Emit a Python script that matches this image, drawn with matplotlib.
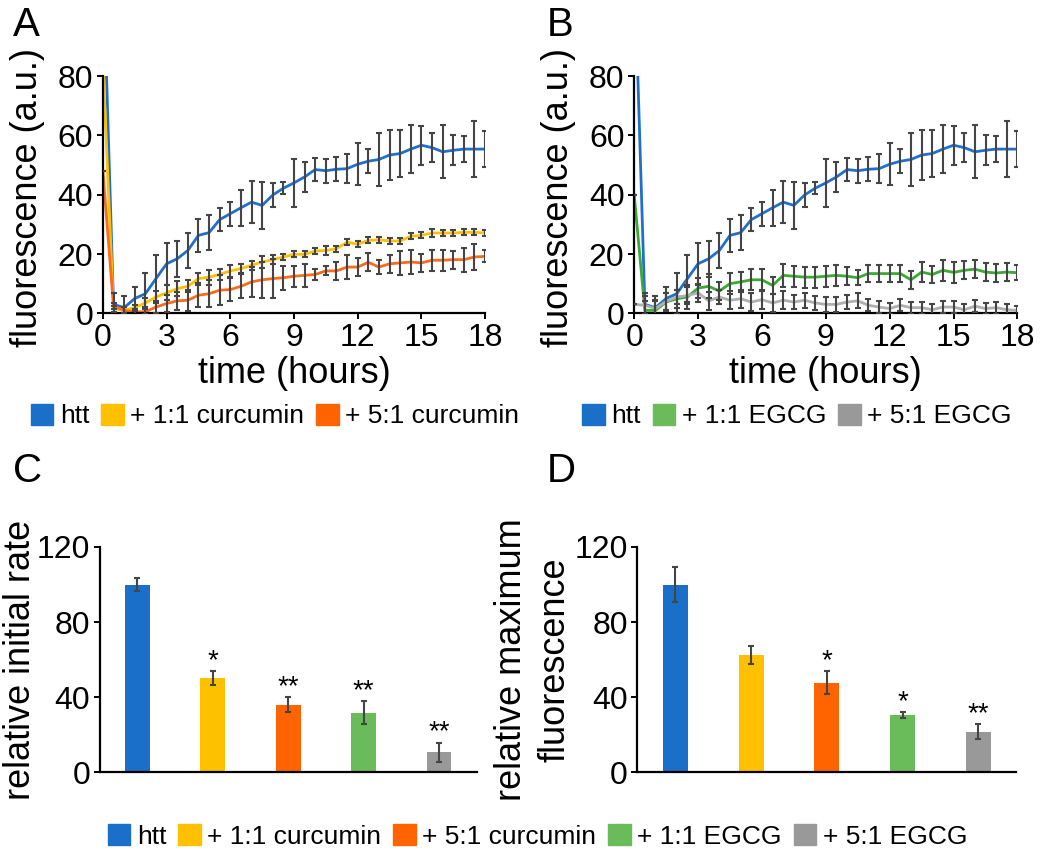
import matplotlib
matplotlib.use('Agg')
import matplotlib.pyplot as plt
from matplotlib.patches import Patch

plt.rcParams['font.family'] = ['Liberation Sans', 'DejaVu Sans']

# time course (hours), one reading every 30 min
t = [0, 0.5, 1, 1.5, 2, 2.5, 3, 3.5, 4, 4.5, 5, 5.5, 6, 6.5, 7, 7.5, 8, 8.5, 9,
     9.5, 10, 10.5, 11, 11.5, 12, 12.5, 13, 13.5, 14, 14.5, 15, 15.5, 16, 16.5,
     17, 17.5, 18]

htt = [120, 3, 1.9, 5, 6.6, 11.7, 16.7, 18.4, 21.2, 26.3, 27.2, 31.6, 33.6, 35.6,
       37.5, 36.4, 39.9, 42.2, 44, 46, 48.5, 48.1, 48.6, 48.8, 50.3, 51.3, 51.9,
       53.4, 53.9, 55.4, 56.7, 55.9, 54.5, 55, 55.4, 55.4, 55.4]
htt_err = [0, 4, 4, 4, 7, 8, 7, 6, 6, 5.5, 6, 4, 4, 6, 7, 8, 4, 2, 8, 5, 4, 4, 4,
           5, 7, 4, 9, 8.5, 8, 8, 6.5, 5, 9, 5, 4.5, 9.5, 6]

cur11 = [85, 1.6, 1, 1.9, 3.5, 5.5, 6.9, 8.3, 9.1, 11.7, 12.2, 13.1, 14.3, 15.1,
         16.2, 17.3, 18.1, 19, 19.9, 19.9, 21, 21.2, 21.8, 24, 23.3, 24.6, 24.8,
         24.4, 24.4, 26, 26.3, 27.1, 27.1, 27.1, 27.3, 27.3, 27.1]
cur11_err = [0, 1, 1, 1, 1.5, 2, 2.5, 2.5, 2, 2, 2.5, 2, 2, 1.5, 1.5, 2, 1.5, 1,
             1, 1, 1, 1.5, 1, 1, 1, 1, 1, 1, 1, 1, 1, 1.5, 1, 1, 1, 1, 1]

cur51 = [48, 2.4, 1, 0.5, 0.5, 2.1, 3.3, 4.2, 4.4, 6.1, 6.6, 7.8, 8, 9.1, 10.6,
         11.3, 11.7, 12, 12.5, 12.8, 13.1, 14.3, 14.3, 15.6, 15.6, 17.2, 15.6,
         16.7, 17, 17.3, 17, 17.9, 17.9, 18.1, 18.1, 19, 19.2]
cur51_err = [0, 1, 1, 1, 1, 2, 3, 3, 3.5, 4, 4.5, 5, 4, 4, 5, 6, 6.5, 4, 3.5, 4,
             2, 1.5, 3, 4, 3, 3, 2.5, 3, 4, 4, 3, 3.5, 3.5, 3, 4, 4.5, 2]

egcg11 = [40, 1, 1, 3.8, 4.9, 5.5, 8.5, 9.1, 7.5, 10, 10.6, 11.3, 11.3, 9.4, 12.8,
          12.5, 12.2, 12.2, 12.5, 12.8, 12.5, 12, 13.4, 13.4, 13.4, 13.4, 11.3,
          13.9, 13.1, 14.5, 13.8, 14.5, 14.9, 13.9, 13.6, 13.9, 13.7]
egcg11_err = [0, 3, 3, 3, 3, 4, 3.5, 4, 3, 3.5, 3.5, 3.5, 3.5, 3, 4, 3.5, 3.5,
              3.5, 3.5, 3.5, 3, 2.5, 3, 3, 3, 3, 3, 3.5, 3, 3.5, 3.5, 3, 3, 3, 3,
              3, 2.5]

egcg51 = [3, 2.7, 1.6, 4, 5.5, 6, 6.9, 4.2, 5.5, 4.4, 4.9, 3.8, 4.6, 3.5, 4.4,
          3.8, 4.4, 3.5, 3, 3, 3.8, 4.2, 2.7, 2.1, 1.6, 2.7, 1.9, 1.9, 1.2, 2.1,
          2.1, 1.2, 2.4, 1.6, 1.9, 1.2, 1]
egcg51_err = [0, 3, 3, 3, 2.5, 3, 3, 3, 2.5, 3, 3, 3, 3, 3, 3, 2.5, 2.5, 2.5,
              2.5, 2.5, 2.5, 2.5, 2, 2, 2, 2, 2, 2, 2, 2, 2, 2, 2, 2, 2, 2, 1.5]

# bar panels
groups = ['htt', '+ 1:1 curcumin', '+ 5:1 curcumin', '+ 1:1 EGCG', '+ 5:1 EGCG']
rate = [100, 50, 35.8, 31.7, 10.6]
rate_err = [3.3, 3.8, 4, 6, 5]
rate_sig = ['', '*', '**', '**', '**']
maxf = [100, 62.4, 47.7, 30.3, 21.6]
maxf_err = [9.3, 4.9, 6, 1.5, 4]
maxf_sig = ['', '', '*', '*', '**']

bar_cols = ['#1a70c8', '#ffc000', '#ff6400', '#6abb5a', '#999999']
line_cols = ['#1f6fd0', '#ffc000', '#ff6a1a', '#3aaa35', '#b0b0b0']
ecol = '#454545'

fig = plt.figure(figsize=(10.5, 8.56), dpi=100)
axA = fig.add_axes([0.098, 0.634, 0.364, 0.277])
axB = fig.add_axes([0.604, 0.634, 0.365, 0.277])
axC = fig.add_axes([0.095, 0.098, 0.359, 0.263])
axD = fig.add_axes([0.607, 0.098, 0.361, 0.263])


def style(ax):
    for s in ['top', 'right']:
        ax.spines[s].set_visible(False)
    for s in ['left', 'bottom']:
        ax.spines[s].set_linewidth(1.6)
    ax.tick_params(labelsize=23, width=1.4, length=4, pad=3)


def curve(ax, y, err, col):
    ax.plot(t, y, color=col, lw=2, zorder=2)
    ax.errorbar(t, y, yerr=err, fmt='none', ecolor=ecol, elinewidth=1.5,
                capsize=2.2, capthick=1.5, zorder=3)


curve(axA, htt, htt_err, line_cols[0])
curve(axA, cur11, cur11_err, line_cols[1])
curve(axA, cur51, cur51_err, line_cols[2])
curve(axB, htt, htt_err, line_cols[0])
curve(axB, egcg11, egcg11_err, line_cols[3])
curve(axB, egcg51, egcg51_err, line_cols[4])

for ax in [axA, axB]:
    style(ax)
    ax.set_xlim(0, 18)
    ax.set_ylim(0, 80)
    ax.set_xticks([0, 3, 6, 9, 12, 15, 18])
    ax.set_yticks([0, 20, 40, 60, 80])
    ax.set_xlabel('time (hours)', fontsize=26, labelpad=2)
    ax.set_ylabel('fluorescence (a.u.)', fontsize=26)
    ax.yaxis.set_label_coords(-0.152, 0.49)

x = range(len(groups))
for ax, vals, errs, sig in [(axC, rate, rate_err, rate_sig),
                            (axD, maxf, maxf_err, maxf_sig)]:
    style(ax)
    ax.bar(x, vals, width=0.33, color=bar_cols)
    ax.errorbar(x, vals, yerr=errs, fmt='none', ecolor=ecol, elinewidth=1.5,
                capsize=2.2, capthick=1.5)
    for i in x:
        if sig[i]:
            ax.text(i, vals[i] + errs[i] - 1.5, sig[i], ha='center', va='bottom',
                    fontsize=20)
    ax.set_xlim(-0.5, 4.5)
    ax.set_ylim(0, 120)
    ax.set_yticks([0, 40, 80, 120])
    ax.set_xticks([])

axC.set_ylabel('relative initial rate', fontsize=26)
axC.yaxis.set_label_coords(-0.163, 0.5)
axD.set_ylabel('relative maximum\nfluorescence', fontsize=26, linespacing=1.3)
axD.yaxis.set_label_coords(-0.172, 0.5)

for lab, xx, yy in [('A', 0.012, 0.993), ('B', 0.521, 0.993),
                    ('C', 0.012, 0.472), ('D', 0.521, 0.472)]:
    fig.text(xx, yy, lab, fontsize=29, ha='left', va='top')

leg_kw = dict(loc='center', frameon=False, fontsize=19, handlelength=0.85,
              handleheight=0.85, handletextpad=0.25, columnspacing=0.45,
              borderpad=0)
hA = [Patch(color=bar_cols[i]) for i in [0, 1, 2]]
fig.legend(hA, ['htt', '+ 1:1 curcumin', '+ 5:1 curcumin'], ncol=3,
           bbox_to_anchor=(0.262, 0.514), **leg_kw)
hB = [Patch(color=bar_cols[i]) for i in [0, 3, 4]]
fig.legend(hB, ['htt', '+ 1:1 EGCG', '+ 5:1 EGCG'], ncol=3,
           bbox_to_anchor=(0.759, 0.514), **leg_kw)
hAll = [Patch(color=c) for c in bar_cols]
fig.legend(hAll, groups, ncol=5, bbox_to_anchor=(0.512, 0.023), **leg_kw)

fig.savefig('out.png', dpi=100)
